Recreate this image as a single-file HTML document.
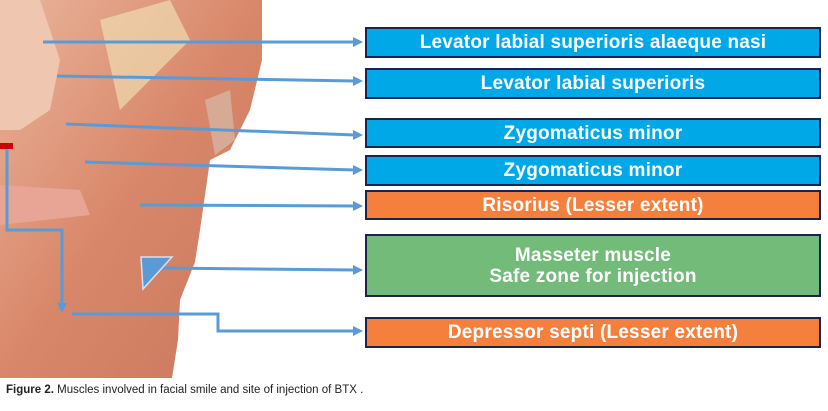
<!DOCTYPE html>
<html><head><style>
body{margin:0;width:828px;height:411px;background:#fff;overflow:hidden;position:relative;font-family:"Liberation Sans",sans-serif}
.b{position:absolute;left:365px;width:456px;border:2px solid #1c2350;color:#fff;font-weight:bold;font-size:19px;letter-spacing:0.2px;text-align:center;box-sizing:border-box;display:flex;align-items:center;justify-content:center;line-height:21px}
.bl{background:#00a8e8}.or{background:#f5803e}.gr{background:#72bb78}
.cap{position:absolute;left:6px;top:384px;font-size:11.5px;color:#222}
</style></head><body>
<svg width="828" height="411" style="position:absolute;left:0;top:0">
<defs>
<linearGradient id="f" x1="0" y1="0" x2="1" y2="1">
<stop offset="0" stop-color="#e9b59c"/><stop offset="0.5" stop-color="#d9876a"/><stop offset="1" stop-color="#c9785e"/></linearGradient>
</defs>
<path d="M0,0 L262,0 L262,60 L250,110 L230,150 L210,160 L200,230 L195,262 L180,300 L178,340 L172,378 L0,378 Z" fill="url(#f)"/>
<path d="M100,20 L170,0 L190,40 L120,110 Z" fill="#f0dcb0" opacity="0.7"/>
<path d="M0,0 L40,0 L60,60 L50,110 L20,130 L0,130Z" fill="#efc6b0"/>
<path d="M0,185 L80,190 L90,215 L0,225Z" fill="#e8a495"/>
<path d="M205,100 L230,90 L235,140 L215,155 Z" fill="#d6aa95"/>
<g stroke="#5b9bd5" stroke-width="3" fill="none">
<path d="M43,42 L355,42"/><path d="M57,76 L355,81"/><path d="M66,124 L355,135"/>
<path d="M85,162 L355,170"/><path d="M140,205 L355,206"/><path d="M160,268 L355,270"/>
<path d="M7,146 L7,230 L62,230 L62,305"/><path d="M72,314 L218,314 L218,331 L355,331"/>
</g>
<g fill="#5b9bd5">
<path d="M353,37 L363,42 L353,47Z"/><path d="M353,76 L363,81 L353,86Z"/><path d="M353,130 L363,135 L353,140Z"/>
<path d="M353,165 L363,170 L353,175Z"/><path d="M353,201 L363,206 L353,211Z"/><path d="M353,265 L363,270 L353,275Z"/>
<path d="M353,326 L363,331 L353,336Z"/><path d="M57,303 L62,313 L67,303Z"/>
<path d="M141,257 L172,257 L143,289Z" stroke="#dde" stroke-width="1.5"/>
</g>
<rect x="0" y="143" width="13" height="6" fill="#c00"/>
</svg>
<div class="b bl" style="top:27px;height:31px">Levator labial superioris alaeque nasi</div>
<div class="b bl" style="top:68px;height:31px">Levator labial superioris</div>
<div class="b bl" style="top:118px;height:30px">Zygomaticus minor</div>
<div class="b bl" style="top:155px;height:31px">Zygomaticus minor</div>
<div class="b or" style="top:190px;height:30px">Risorius (Lesser extent)</div>
<div class="b gr" style="top:234px;height:63px">Masseter muscle<br>Safe zone for injection</div>
<div class="b or" style="top:317px;height:31px">Depressor septi (Lesser extent)</div>
<div class="cap"><b>Figure 2.</b> Muscles involved in facial smile and site of injection of BTX .</div>
</body></html>
